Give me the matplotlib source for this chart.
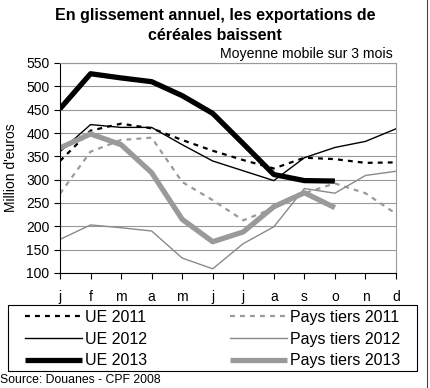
import matplotlib
matplotlib.use("Agg")
import matplotlib.pyplot as plt
from matplotlib.patches import Rectangle
from matplotlib.lines import Line2D

plt.rcParams['font.family'] = ['Liberation Sans', 'DejaVu Sans']

months = ['j', 'f', 'm', 'a', 'm', 'j', 'j', 'a', 's', 'o', 'n', 'd']
ue_2011 = [340, 405, 420, 410, 385, 362, 342, 324, 347, 344, 336, 337]
ue_2012 = [360, 418, 412, 412, 375, 340, 319, 298, 347, 369, 382, 409]
ue_2013 = [452, 527, 518, 510, 480, 442, 377, 311, 298, 297]
pt_2011 = [270, 360, 385, 390, 295, 256, 213, 239, 271, 292, 271, 227]
pt_2012 = [172, 203, 197, 190, 132, 109, 163, 199, 281, 271, 309, 318]
pt_2013 = [368, 398, 375, 315, 215, 167, 188, 242, 272, 240]

W, H = 430, 388
fig = plt.figure(figsize=(W / 100, H / 100), dpi=100)
ax = fig.add_axes([60 / W, 1 - 273 / H, 336 / W, 210 / H])

x = list(range(12))
dash = (0, (2.2, 2.3))
l1, = ax.plot(x, ue_2011, color='black', lw=1.6, ls=dash, label='UE 2011')
l2, = ax.plot(x, ue_2012, color='black', lw=1.0, label='UE 2012')
l3, = ax.plot(x[:len(ue_2013)], ue_2013, color='black', lw=3.8, solid_capstyle='butt', label='UE 2013')
l4, = ax.plot(x, pt_2011, color='#9a9a9a', lw=1.6, ls=dash, label='Pays tiers 2011')
l5, = ax.plot(x, pt_2012, color='#8a8a8a', lw=1.0, label='Pays tiers 2012')
l6, = ax.plot(x[:len(pt_2013)], pt_2013, color='#9a9a9a', lw=3.8, solid_capstyle='butt', label='Pays tiers 2013')

ax.set_xlim(0, 11)
ax.set_ylim(100, 550)
ax.set_yticks(range(100, 551, 50))
ax.set_xticks(x)
ax.set_xticklabels(months)
ax.yaxis.grid(True, color='#999999', lw=0.8)
ax.set_axisbelow(True)
for s in ['top', 'right']:
    ax.spines[s].set_color('#999999')
    ax.spines[s].set_linewidth(0.8)
ax.spines['left'].set_color('black')
ax.spines['bottom'].set_color('black')
ax.tick_params(axis='both', labelsize=10, length=4, width=0.8, colors='black')
ax.tick_params(axis='x', pad=8)
ax.set_ylabel("Million d'euros", fontsize=10, labelpad=6)

fig.text(215 / W, 1 - 8 / H, "En glissement annuel, les exportations de\ncéréales baissent",
         ha='center', va='top', fontsize=11.5, fontweight='bold', linespacing=1.45)
fig.text(393 / W, 1 - 61 / H, "Moyenne mobile sur 3 mois", ha='right', va='bottom', fontsize=10.2)

# legend frame
fig.patches.append(Rectangle((8 / W, 1 - 371 / H), 409 / W, 66 / H, transform=fig.transFigure,
                             fill=False, edgecolor='black', lw=0.8))
leg = fig.legend(handles=[l1, l2, l3, l4, l5, l6], ncol=2,
                 loc='upper left', bbox_to_anchor=(25 / W, 1 - 310 / H),
                 frameon=False, fontsize=11.5,
                 handlelength=3.56, handletextpad=0.2, columnspacing=5.2,
                 borderpad=0, labelspacing=0.42, borderaxespad=0)

fig.text(0, 1 - 380 / H, "Source: Douanes - CPF 2008", ha='left', va='center', fontsize=8.8)

# right border of the image
fig.add_artist(Line2D([427 / W, 427 / W], [0, 1], transform=fig.transFigure, color='#444444', lw=0.8))

fig.savefig('out.png', dpi=100)
